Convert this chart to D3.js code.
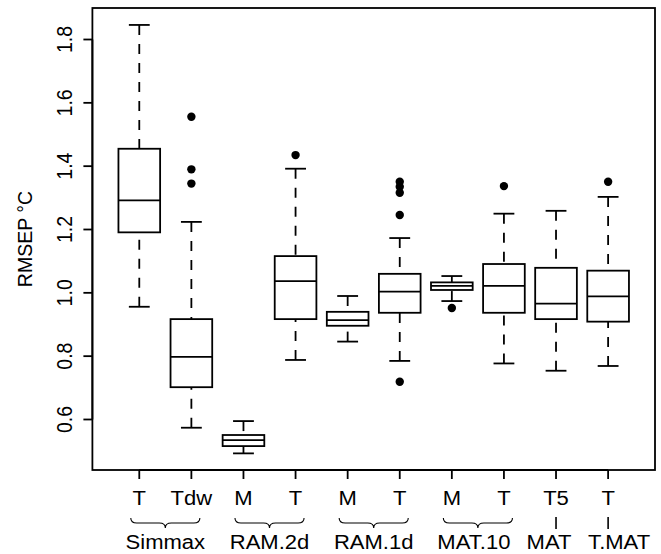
<!DOCTYPE html>
<html>
<head>
<meta charset="utf-8">
<script src="https://cdn.jsdelivr.net/npm/d3@7"></script>
<style>
  html, body { margin: 0; padding: 0; background: #fff; }
  text { font-family: "Liberation Sans", Arial, Helvetica, sans-serif; fill: #000; }
</style>
</head>
<body>
<svg id="chart" width="661" height="554"></svg>
<script>
// ---- data ----
const tickLabels   = ["T", "Tdw", "M", "T", "M", "T", "M", "T", "T5", "T"];
const groupNames   = ["Simmax", "RAM.2d", "RAM.1d", "MAT.10", "MAT", "T.MAT"];
const groupSpans   = [[1, 2], [3, 4], [5, 6], [7, 8], [9, 9], [10, 10]];
const whiskerLow   = [0.956, 0.574, 0.493, 0.788, 0.846, 0.785, 0.974, 0.777, 0.754, 0.769];
const quart1       = [1.191, 0.702, 0.516, 0.917, 0.896, 0.937, 1.009, 0.937, 0.917, 0.909];
const medians      = [1.292, 0.798, 0.535, 1.037, 0.914, 1.004, 1.022, 1.022, 0.966, 0.989];
const quart3       = [1.455, 0.917, 0.551, 1.116, 0.940, 1.060, 1.033, 1.091, 1.079, 1.070];
const whiskerHigh  = [1.846, 1.224, 0.595, 1.392, 0.990, 1.173, 1.053, 1.250, 1.259, 1.303];
const outliers     = [[], [1.556, 1.390, 1.345], [], [1.435], [],
                      [1.351, 1.335, 1.316, 1.246, 0.719], [0.952], [1.337], [], [1.351]];
const yTicks       = [0.6, 0.8, 1.0, 1.2, 1.4, 1.6, 1.8];
const yLabel       = "RMSEP °C";

// ---- layout ----
const svg = d3.select("#chart");
const plot = { left: 92.4, right: 655, top: 8, bottom: 470 };
const x = d3.scaleLinear().domain([0.1, 10.9]).range([plot.left, plot.right]);
const y = d3.scaleLinear().domain([0.4405, 1.8995]).range([plot.bottom, plot.top]);
const lw = 1.8;
const fs = 19.5;
const sx = 1.13;                     // horizontal stretch of glyphs
const labelShift = [0, 0, 0, -4, -7, 11]; // group label nudges (px) to avoid overlap
const boxHalf = (x(1.4) - x(1));     // 0.8 box width
const stapleHalf = (x(1.2) - x(1));  // 0.4 staple width

const n = tickLabels.length;
const idx = d3.range(n);

const g = svg.append("g");

// whiskers (dashed), drawn from whisker end toward box
g.selectAll("line.wl").data(idx).join("line")
  .attr("x1", i => x(i + 1)).attr("x2", i => x(i + 1))
  .attr("y1", i => y(whiskerLow[i])).attr("y2", i => y(quart1[i]))
  .attr("stroke", "#000").attr("stroke-width", lw).attr("stroke-dasharray", "10,9");
g.selectAll("line.wh").data(idx).join("line")
  .attr("x1", i => x(i + 1)).attr("x2", i => x(i + 1))
  .attr("y1", i => y(whiskerHigh[i])).attr("y2", i => y(quart3[i]))
  .attr("stroke", "#000").attr("stroke-width", lw).attr("stroke-dasharray", "10,9");

// staples
[whiskerLow, whiskerHigh].forEach(arr => {
  g.append("g").selectAll("line").data(idx).join("line")
    .attr("x1", i => x(i + 1) - stapleHalf).attr("x2", i => x(i + 1) + stapleHalf)
    .attr("y1", i => y(arr[i])).attr("y2", i => y(arr[i]))
    .attr("stroke", "#000").attr("stroke-width", lw);
});

// boxes
g.append("g").selectAll("rect").data(idx).join("rect")
  .attr("x", i => x(i + 1) - boxHalf)
  .attr("width", 2 * boxHalf)
  .attr("y", i => y(quart3[i]))
  .attr("height", i => y(quart1[i]) - y(quart3[i]))
  .attr("fill", "#fff").attr("stroke", "#000").attr("stroke-width", lw);

// medians
g.append("g").selectAll("line").data(idx).join("line")
  .attr("x1", i => x(i + 1) - boxHalf).attr("x2", i => x(i + 1) + boxHalf)
  .attr("y1", i => y(medians[i])).attr("y2", i => y(medians[i]))
  .attr("stroke", "#000").attr("stroke-width", lw);

// outliers
const outPts = [];
outliers.forEach((arr, i) => arr.forEach(v => outPts.push({ i, v })));
g.append("g").selectAll("circle").data(outPts).join("circle")
  .attr("cx", d => x(d.i + 1)).attr("cy", d => y(d.v)).attr("r", 4.2)
  .attr("fill", "#000");

// plot border
svg.append("rect")
  .attr("x", plot.left).attr("y", plot.top)
  .attr("width", plot.right - plot.left).attr("height", plot.bottom - plot.top)
  .attr("fill", "none").attr("stroke", "#000").attr("stroke-width", lw);

// y axis
const yAxis = svg.append("g");
yAxis.append("line")
  .attr("x1", plot.left).attr("x2", plot.left)
  .attr("y1", y(yTicks[0])).attr("y2", y(yTicks[yTicks.length - 1]))
  .attr("stroke", "#000").attr("stroke-width", lw);
yAxis.selectAll("line.t").data(yTicks).join("line")
  .attr("x1", plot.left - 9).attr("x2", plot.left)
  .attr("y1", d => y(d)).attr("y2", d => y(d))
  .attr("stroke", "#000").attr("stroke-width", lw);
yAxis.selectAll("text").data(yTicks).join("text")
  .attr("transform", d => `translate(71.5,${y(d)}) scale(${sx},1) rotate(-90)`)
  .attr("text-anchor", "middle").attr("font-size", fs)
  .text(d => d3.format(".1f")(d));

svg.append("text")
  .attr("transform", `translate(31.5,${(plot.top + plot.bottom) / 2}) rotate(-90)`)
  .attr("text-anchor", "middle").attr("font-size", fs)
  .text(yLabel);

// x axis
const xAxis = svg.append("g");
xAxis.append("line")
  .attr("x1", x(1)).attr("x2", x(n)).attr("y1", plot.bottom).attr("y2", plot.bottom)
  .attr("stroke", "#000").attr("stroke-width", lw);
xAxis.selectAll("line.t").data(idx).join("line")
  .attr("x1", i => x(i + 1)).attr("x2", i => x(i + 1))
  .attr("y1", plot.bottom).attr("y2", plot.bottom + 9)
  .attr("stroke", "#000").attr("stroke-width", lw);
xAxis.selectAll("text").data(idx).join("text")
  .attr("transform", i => `translate(${x(i + 1)},504.5) scale(${sx},1)`)
  .attr("text-anchor", "middle").attr("font-size", fs)
  .text(i => tickLabels[i]);

// group braces / markers and labels
const grp = svg.append("g");
groupSpans.forEach((s, k) => {
  const a = x(s[0]), b = x(s[1]);
  const cx = (a + b) / 2;
  if (s[0] !== s[1]) {
    const x0 = a - 8.5, x1 = b + 8.5;
    const p = d3.path();
    p.moveTo(x0, 518);
    p.quadraticCurveTo(x0, 523, x0 + 6, 523);
    p.lineTo(cx - 6, 523);
    p.quadraticCurveTo(cx, 523, cx, 528);
    p.quadraticCurveTo(cx, 523, cx + 6, 523);
    p.lineTo(x1 - 6, 523);
    p.quadraticCurveTo(x1, 523, x1, 518);
    grp.append("path").attr("d", p.toString())
      .attr("fill", "none").attr("stroke", "#000").attr("stroke-width", 1.1);
  } else {
    grp.append("line").attr("x1", cx).attr("x2", cx).attr("y1", 517).attr("y2", 529)
      .attr("stroke", "#000").attr("stroke-width", 1.6);
  }
  grp.append("text").attr("transform", `translate(${cx + labelShift[k]},549) scale(${sx},1)`)
    .attr("text-anchor", "middle").attr("font-size", fs)
    .text(groupNames[k]);
});
</script>
</body>
</html>
